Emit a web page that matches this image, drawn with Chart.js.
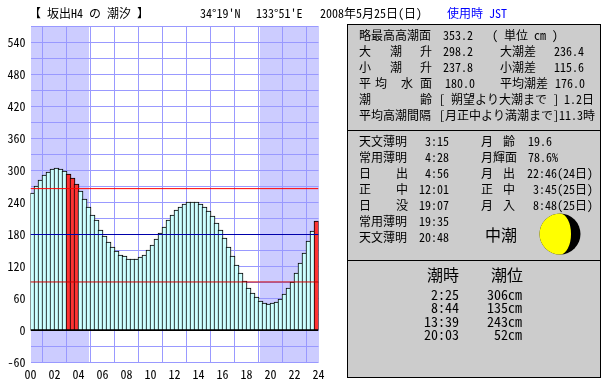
<!DOCTYPE html>
<html><head><meta charset="utf-8">
<script src="https://cdn.jsdelivr.net/npm/chart.js@4"></script>
<style>
html,body{margin:0;padding:0;background:#fff;width:610px;height:385px;overflow:hidden}
#wrap{position:relative;width:610px;height:385px}
canvas{position:absolute;left:0;top:0}
.p{position:absolute;left:347px;width:254px;background:#ccc;border:1px solid #000;box-sizing:border-box}
.t{position:absolute;white-space:pre;font-family:"Noto Sans Mono CJK JP","Noto Sans CJK JP",monospace;font-size:12px;line-height:16px;height:16px;color:#000}
</style></head><body><div id="wrap"><canvas id="c" width="610" height="385"></canvas></div>
<script>
const tideLevels=[258,271,282,292,297,303,305,303,299,294,286,275,262,247,232,217,207,189,178,166,157,149,142,139,134,134,134,138,142,151,161,172,183,194,208,217,226,232,238,241,241,241,238,232,224,215,202,189,174,157,140,123,108,93,80,71,62,56,52,50,52,54,60,69,79,91,108,126,146,167,186,206];
const highlightBars=[9,10,11,71];
const refLines=[{y:266,color:'#ff0000'},{y:180,color:'#0000aa'},{y:91,color:'#cc0000'}];
const nightSpans=[[0,4.88],[19.13,24]];
const yMin=-60,yMax=570;
const panels=[[24,107],[130,131],[260,118]];
const texts=[
 [29,13,'【 坂出H4 の 潮汐 】'],[200,13,"34°19'N"],[256,13,"133°51'E"],[320,13,'2008年5月25日(日)'],[447,13,'使用時 JST',0,'#0000ff'],
 [359,35,'略最高高潮面'],[443,35,'353.2'],[492,35,'( 単位 cm )'],
 [359,51,'大'],[390,51,'潮'],[420,51,'升'],[443,51,'298.2'],[500,51,'大潮差'],[554,51,'236.4'],
 [359,67,'小'],[390,67,'潮'],[420,67,'升'],[443,67,'237.8'],[500,67,'小潮差'],[554,67,'115.6'],
 [359,83,'平'],[375,83,'均'],[401,83,'水'],[420,83,'面'],[445,83,'180.0'],[500,83,'平均潮差'],[555,83,'176.0'],
 [359,99,'潮'],[420,99,'齢'],[439,99,'[ 朔望より大潮まで ]'],[564,99,'1.2日'],
 [359,115,'平均高潮間隔'],[439,115,'[月正中より満潮まで]11.3時'],
 [359,141,'天文薄明'],[449,141,'3:15',1],[359,157,'常用薄明'],[449,157,'4:28',1],
 [359,173,'日'],[396,173,'出'],[449,173,'4:56',1],[359,189,'正'],[396,189,'中'],[449,189,'12:01',1],
 [359,205,'日'],[396,205,'没'],[449,205,'19:07',1],[359,221,'常用薄明'],[449,221,'19:35',1],[359,237,'天文薄明'],[449,237,'20:48',1],
 [481,141,'月'],[503,141,'齢'],[528,141,'19.6'],[481,157,'月輝面'],[528,157,'78.6%'],
 [481,173,'月'],[503,173,'出'],[593,173,'22:46(24日)',1],[481,189,'正'],[503,189,'中'],[593,189,'3:45(25日)',1],
 [481,205,'月'],[503,205,'入'],[593,205,'8:48(25日)',1],
 [485,234,'中潮',0,'#000',16],
 [427,274,'潮時',0,'#000',16],[491,274,'潮位',0,'#000',16],
 [459,294,'2:25',1,'#000',14],[522,294,'306cm',1,'#000',14],[459,307,'8:44',1,'#000',14],[522,307,'135cm',1,'#000',14],
 [459,321,'13:39',1,'#000',14],[522,321,'243cm',1,'#000',14],[459,334,'20:03',1,'#000',14],[522,334,'52cm',1,'#000',14]
];
const wrap=document.getElementById('wrap');
panels.forEach(p=>{const d=document.createElement('div');d.className='p';d.style.top=p[0]+'px';d.style.height=p[1]+'px';wrap.appendChild(d);});
texts.forEach(t=>{const d=document.createElement('div');d.className='t';d.textContent=t[2];
 d.style.top=(t[1]-8)+'px';
 if(t[3])d.style.right=(610-t[0])+'px';else d.style.left=t[0]+'px';
 if(t[4])d.style.color=t[4];if(t[5])d.style.fontSize=t[5]+'px';wrap.appendChild(d);});
const svg=document.createElementNS('http://www.w3.org/2000/svg','svg');
svg.setAttribute('width','42');svg.setAttribute('height','42');svg.style.cssText='position:absolute;left:539px;top:213px';
svg.innerHTML='<circle cx="21" cy="21" r="20.5" fill="#000"/><path d="M21 .5A20.5 20.5 0 0 0 21 41.5A11 20.5 0 0 0 21 .5Z" fill="#ff0"/>';
wrap.appendChild(svg);

const shade={id:'shade',beforeDraw(ch){
  const {ctx,chartArea:a,scales:{x}}=ch;ctx.save();ctx.fillStyle='#ccccff';
  nightSpans.forEach(s=>{const l=Math.round(x.getPixelForValue(s[0])),r=Math.round(x.getPixelForValue(s[1]));ctx.fillRect(l,a.top,r-l,a.bottom-a.top);});
  ctx.restore();
}};
const snap={id:'snap',afterDatasetsUpdate(ch){
  const i=ch.data.datasets.findIndex(d=>d.type==='bar');
  ch.getDatasetMeta(i).data.forEach(b=>{b.y=Math.round(b.y);b.base=Math.round(b.base);});
}};
const lineSets=refLines.map(l=>({type:'line',data:[{x:0,y:l.y},{x:24,y:l.y}],borderColor:l.color,borderWidth:1,pointRadius:0,order:0}));
new Chart(document.getElementById('c'),{
 data:{datasets:[
  ...lineSets,
  {type:'line',data:[{x:0,y:0},{x:24,y:0}],borderColor:'#000',borderWidth:1,pointRadius:0,order:0},
  {type:'bar',data:tideLevels.map((v,i)=>({x:i/3+1/6,y:v})),backgroundColor:tideLevels.map((v,i)=>highlightBars.includes(i)?'#ff3333':'#ccffff'),borderColor:'#000',borderWidth:1,borderSkipped:false,barThickness:5,order:1}
 ]},
 options:{responsive:false,animation:false,
  layout:{padding:{left:0.5,top:26.5,right:291.5,bottom:0}},
  plugins:{legend:{display:false},tooltip:{enabled:false}},
  scales:{
   x:{type:'linear',min:0,max:24,offset:false,afterFit(s){s.height=22.5},afterBuildTicks(s){s.ticks=[];for(let h=0;h<=24;h+=2)s.ticks.push({value:h})},
      grid:{color:'#9999ff',lineWidth:1,drawTicks:false},border:{display:false},
      ticks:{autoSkip:false,maxRotation:0,padding:5,color:'#000',font:{family:'"Noto Sans Mono CJK JP","Liberation Mono",monospace',size:12},callback:v=>String(v).padStart(2,'0')}},
   y:{type:'linear',min:yMin,max:yMax,afterFit(s){s.width=30},afterBuildTicks(s){s.ticks=[];for(let v=yMin;v<=yMax;v+=30)s.ticks.push({value:v})},
      grid:{color:'#9999ff',lineWidth:1,drawTicks:false},border:{display:false},
      ticks:{autoSkip:false,padding:5,color:'#000',font:{family:'"Noto Sans Mono CJK JP","Liberation Mono",monospace',size:12},callback:v=>(v%60===0&&v<570)?String(v):''}}
  }},
 plugins:[shade,snap]
});
</script></body></html>
